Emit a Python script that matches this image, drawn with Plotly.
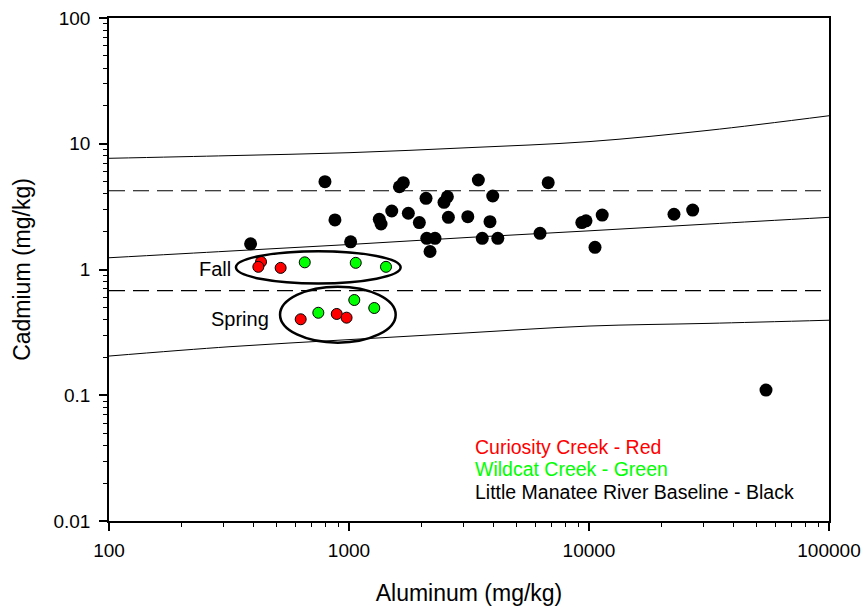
import math
import plotly.graph_objects as go

# ---------------- data ----------------
base_al = [389, 794, 874, 1016, 1337, 1360, 1507, 1622, 1684, 1767, 1964, 2094,
           2109, 2176, 2282, 2488, 2570, 2595, 3126, 3459, 3591, 3868, 3971, 4169,
           6252, 6761, 9333, 9716, 10593, 11351, 22600, 27040, 54640]
base_cd = [1.60, 4.99, 2.48, 1.66, 2.51, 2.30, 2.92, 4.55, 4.90, 2.80, 2.36, 3.68,
           1.77, 1.39, 1.77, 3.42, 3.79, 2.60, 2.63, 5.15, 1.77, 2.40, 3.84, 1.77,
           1.94, 4.90, 2.36, 2.44, 1.50, 2.71, 2.75, 2.97, 0.110]

curiosity_al = [430, 419, 519, 629, 889, 977]
curiosity_cd = [1.15, 1.05, 1.03, 0.402, 0.443, 0.414]

wildcat_al = [654, 1067, 1426, 745, 1052, 1274]
wildcat_cd = [1.14, 1.13, 1.05, 0.453, 0.572, 0.494]

line_al = [100, 316.2, 1000, 3162, 10000, 31623, 100000]
upper_cd = [7.66, 8.04, 8.49, 9.31, 10.4, 12.8, 16.7]
middle_cd = [1.24, 1.40, 1.58, 1.80, 2.03, 2.30, 2.60]
lower_cd = [0.205, 0.243, 0.277, 0.314, 0.355, 0.373, 0.395]

dash_al = [100, 100000]
dash_hi = [4.23, 4.23]
dash_lo = [0.679, 0.679]

fall_box_al = [338, 1641]
fall_box_cd = [0.774, 1.398]
spring_box_al = [516, 1565]
spring_box_cd = [0.262, 0.730]

x_ticks = [100, 1000, 10000, 100000]
x_tick_text = ["100", "1000", "10000", "100000"]
y_ticks = [0.01, 0.1, 1, 10, 100]
y_tick_text = ["0.01", "0.1", "1", "10", "100"]

FONT = "Arial, Liberation Sans, sans-serif"

fig = go.Figure()

for ys in (upper_cd, middle_cd, lower_cd):
    fig.add_trace(go.Scatter(x=line_al, y=ys, mode="lines",
                             line=dict(color="black", width=1, shape="spline"),
                             hoverinfo="skip", showlegend=False))
for ys in (dash_hi, dash_lo):
    fig.add_trace(go.Scatter(x=dash_al, y=ys, mode="lines",
                             line=dict(color="black", width=1.2, dash="16px,8px"),
                             hoverinfo="skip", showlegend=False))

fig.add_trace(go.Scatter(x=base_al, y=base_cd, mode="markers",
                         marker=dict(color="black", size=13, line=dict(width=0)),
                         showlegend=False))
fig.add_trace(go.Scatter(x=curiosity_al, y=curiosity_cd, mode="markers",
                         marker=dict(color="#ff0000", size=11,
                                     line=dict(color="black", width=1)),
                         showlegend=False))
fig.add_trace(go.Scatter(x=wildcat_al, y=wildcat_cd, mode="markers",
                         marker=dict(color="#00ff00", size=11,
                                     line=dict(color="black", width=1)),
                         showlegend=False))

for bx, by in ((fall_box_al, fall_box_cd), (spring_box_al, spring_box_cd)):
    fig.add_shape(type="circle", xref="x", yref="y",
                  x0=bx[0], x1=bx[1], y0=by[0], y1=by[1],
                  line=dict(color="black", width=2.5))

fig.add_annotation(x=math.log10(277), y=math.log10(1.01), text="Fall",
                   showarrow=False, font=dict(family=FONT, size=20, color="black"))
fig.add_annotation(x=math.log10(351), y=math.log10(0.404), text="Spring",
                   showarrow=False, font=dict(family=FONT, size=20, color="black"))

legend_items = [("Curiosity Creek - Red", "#ff0000", 0.1477),
                ("Wildcat Creek - Green", "#00ff00", 0.1028),
                ("Little Manatee River Baseline - Black", "black", 0.0583)]
for txt, col, yp in legend_items:
    fig.add_annotation(xref="paper", yref="paper", x=0.5056, y=yp, text=txt,
                       xanchor="left", yanchor="middle", showarrow=False,
                       font=dict(family=FONT, size=19.5, color=col))

axis_common = dict(showgrid=False, zeroline=False, showline=True, linecolor="black",
                   linewidth=1.5, mirror=True, ticks="outside", ticklen=8,
                   tickwidth=1.5, tickcolor="black", automargin=False,
                   tickfont=dict(family=FONT, size=19, color="black"),
                   minor=dict(ticks="outside", ticklen=4, tickwidth=1,
                              tickcolor="black", dtick="D1", showgrid=False))

fig.update_xaxes(type="log", range=[2, 5], tickmode="array", tickvals=x_ticks,
                 ticktext=x_tick_text, ticklabelstandoff=3,
                 title=dict(text="Aluminum (mg/kg)", standoff=25,
                            font=dict(family=FONT, size=23, color="black")),
                 **axis_common)
fig.update_yaxes(type="log", range=[-2, 2], tickmode="array", tickvals=y_ticks,
                 ticktext=y_tick_text, ticklabelstandoff=5,
                 title=dict(text="Cadmium (mg/kg)", standoff=16,
                            font=dict(family=FONT, size=23, color="black")),
                 **axis_common)

fig.update_layout(width=867, height=607, plot_bgcolor="white", paper_bgcolor="white",
                  margin=dict(l=109, r=38, t=18, b=86), showlegend=False,
                  font=dict(family=FONT))

fig.write_html("out.html")
